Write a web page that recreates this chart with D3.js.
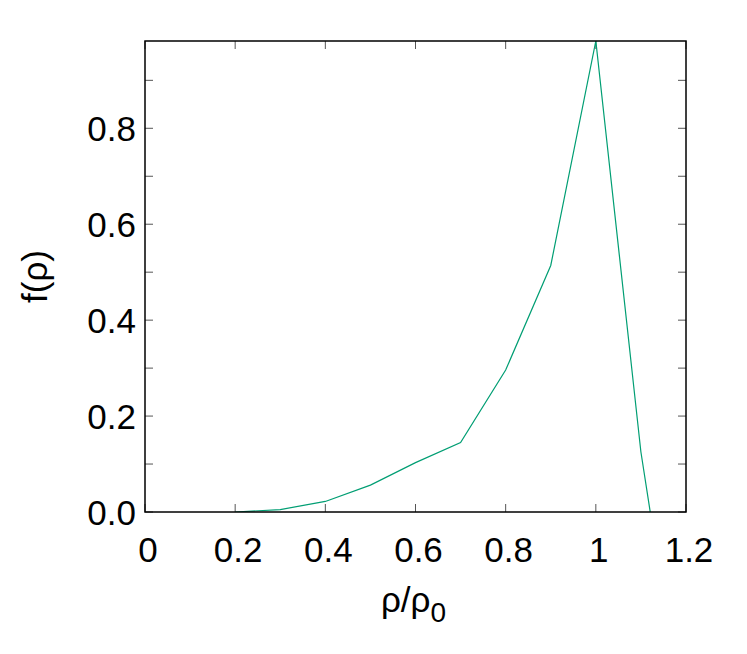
<!DOCTYPE html>
<meta charset='utf-8'>
<style>
    body { margin: 0; background: #fff; }
    text { font-family: 'Liberation Sans', Arial, sans-serif; }
</style>
<body>
    <script src='https://cdn.jsdelivr.net/npm/d3@7/dist/d3.min.js'></script>
    <script>
        // density ratio and distribution values
        var rho = [0.2, 0.3, 0.4, 0.5, 0.6, 0.7, 0.8, 0.9, 1.0, 1.1, 1.2];
        var f   = [0.0, 0.005, 0.022, 0.056, 0.103, 0.145, 0.296, 0.514, 0.982, 0.125, -0.48];
        var xTicks = [0, 0.2, 0.4, 0.6, 0.8, 1, 1.2];
        var yTicks = [0, 0.2, 0.4, 0.6, 0.8];
        var yMinor = [0.1, 0.3, 0.5, 0.7, 0.9];

        var width = 747,
            height = 654;
        var pLeft = 145, pRight = 686, pTop = 41, pBottom = 512;

        var svg = d3.select('body').append('svg')
            .attr('width', width)
            .attr('height', height);

        var x = d3.scaleLinear().domain([0, 1.2]).range([pLeft, pRight]);
        var y = d3.scaleLinear().domain([0, 0.982]).range([pBottom, pTop]);

        svg.append('clipPath').attr('id', 'clip')
            .append('rect')
            .attr('x', pLeft).attr('y', pTop)
            .attr('width', pRight - pLeft).attr('height', pBottom - pTop);

        var tickLen = 8;
        var tickColor = '#555';

        // x ticks, bottom and top
        xTicks.forEach(function(t) {
            svg.append('line').attr('x1', x(t)).attr('x2', x(t))
                .attr('y1', pBottom).attr('y2', pBottom - tickLen)
                .attr('stroke', tickColor);
            svg.append('line').attr('x1', x(t)).attr('x2', x(t))
                .attr('y1', pTop).attr('y2', pTop + tickLen)
                .attr('stroke', tickColor);
            svg.append('text').attr('x', x(t) + 3).attr('y', 562)
                .attr('text-anchor', 'middle')
                .style('font-size', '35px')
                .text(t === 0 || t === 1 ? String(t) : t.toFixed(1));
        });

        // y ticks, left and right
        yTicks.concat(yMinor).forEach(function(t) {
            svg.append('line').attr('x1', pLeft).attr('x2', pLeft + tickLen)
                .attr('y1', y(t)).attr('y2', y(t))
                .attr('stroke', tickColor);
            svg.append('line').attr('x1', pRight).attr('x2', pRight - tickLen)
                .attr('y1', y(t)).attr('y2', y(t))
                .attr('stroke', tickColor);
        });
        yTicks.forEach(function(t) {
            svg.append('text').attr('x', 136).attr('y', y(t))
                .attr('dy', '0.36em')
                .attr('text-anchor', 'end')
                .style('font-size', '35px')
                .text(t.toFixed(1));
        });

        var line = d3.line()
            .x(function(d, i) { return x(rho[i]); })
            .y(function(d) { return y(d); });

        svg.append('path')
            .datum(f)
            .attr('clip-path', 'url(#clip)')
            .attr('fill', 'none')
            .attr('stroke', '#009e73')
            .attr('stroke-width', 1.2)
            .attr('d', line);

        // frame
        svg.append('rect')
            .attr('x', pLeft).attr('y', pTop)
            .attr('width', pRight - pLeft).attr('height', pBottom - pTop)
            .attr('fill', 'none')
            .attr('stroke', '#000')
            .attr('stroke-width', 1.5);

        // axis titles
        var xl = svg.append('text')
            .attr('x', (pLeft + pRight) / 2 - 2)
            .attr('y', 612)
            .attr('text-anchor', 'middle')
            .style('font-size', '35px');
        xl.append('tspan').text('\u03c1/\u03c1');
        xl.append('tspan').attr('dy', 10).style('font-size', '28px').text('0');

        svg.append('text')
            .attr('transform', 'translate(47,' + (pTop + pBottom) / 2 + ') rotate(-90)')
            .attr('text-anchor', 'middle')
            .style('font-size', '35px')
            .text('f(\u03c1)');
    </script>
</body>
